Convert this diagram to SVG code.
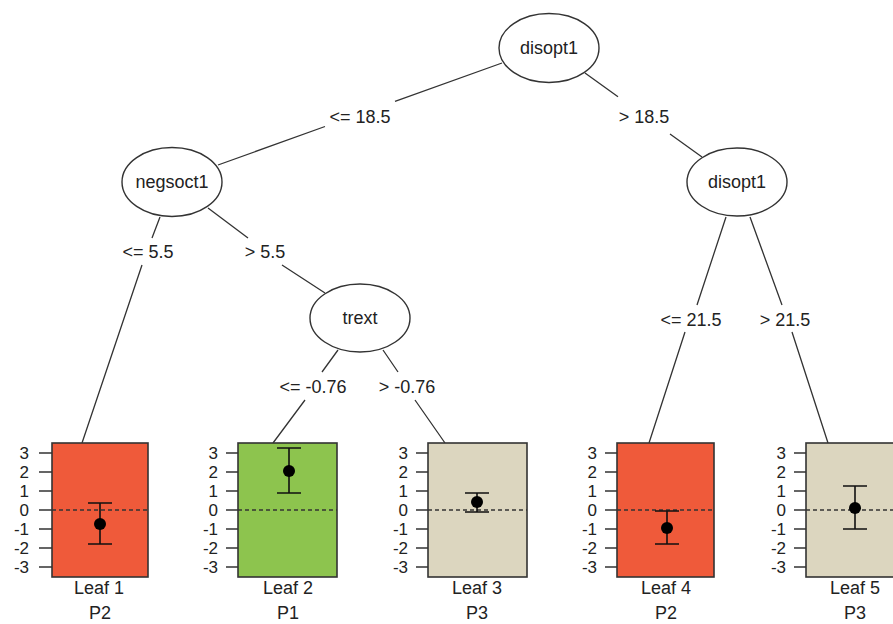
<svg xmlns="http://www.w3.org/2000/svg" width="893" height="624" viewBox="0 0 893 624">
<style>
text{font-family:"Liberation Sans",Arial,sans-serif;font-size:18px;fill:#222;text-anchor:middle}
.ax{text-anchor:end;font-size:17px}
.ell{fill:#fff;stroke:#333;stroke-width:1.4}
.edge{stroke:#333;stroke-width:1.3;fill:none}
.box{stroke:#333;stroke-width:1.6}
.red{fill:#EF5A3A}
.green{fill:#8DC44E}
.beige{fill:#DCD6BF}
.tick{stroke:#333;stroke-width:1.3}
.zero{stroke:#333;stroke-width:1.3;stroke-dasharray:4 3}
.eb{stroke:#111;stroke-width:1.6;fill:none}
.dot{fill:#000}
</style>
<rect width="893" height="624" fill="#fff"/>
<g id="connectors">
<path class="edge" d="M502,63 L395,101.4 M325,126.5 L218,165"/>
<path class="edge" d="M585,73 L618,96.7 M670,134 L702,157"/>
<path class="edge" d="M160,217 L152,238 M142,265 L82,443"/>
<path class="edge" d="M208,208 L248,238 M282,265 L325,293"/>
<path class="edge" d="M338,350 L322,372 M305,400 L273,443"/>
<path class="edge" d="M383,350 L398,372 M415,400 L445,443"/>
<path class="edge" d="M726,217 L697,305 M685,332 L649,443"/>
<path class="edge" d="M750,217 L782,305 M792,332 L828,443"/>
<text x="360" y="123">&lt;= 18.5</text>
<text x="644" y="123">&gt; 18.5</text>
<text x="148" y="258">&lt;= 5.5</text>
<text x="265" y="258">&gt; 5.5</text>
<text x="313" y="393">&lt;= -0.76</text>
<text x="407" y="393">&gt; -0.76</text>
<text x="691" y="326">&lt;= 21.5</text>
<text x="785" y="326">&gt; 21.5</text>
</g>
<g id="node-disopt1-root">
<ellipse class="ell" cx="549" cy="48" rx="50" ry="34.5"/>
<text x="549" y="54">disopt1</text>
</g>
<g id="node-negsoct1">
<ellipse class="ell" cx="172" cy="182" rx="50" ry="34.5"/>
<text x="172" y="188">negsoct1</text>
</g>
<g id="node-trext">
<ellipse class="ell" cx="360" cy="318" rx="50" ry="34"/>
<text x="360" y="324">trext</text>
</g>
<g id="node-disopt1-right">
<ellipse class="ell" cx="737" cy="182" rx="50" ry="34"/>
<text x="737" y="188">disopt1</text>
</g>
<g id="leaf1">
<rect class="box red" x="52" y="443" width="96" height="134"/>
<path class="tick" d="M39,453H52M39,472H52M39,491H52M39,510H52M39,529H52M39,548H52M39,567H52"/>
<text class="ax" x="29" y="459">3</text><text class="ax" x="29" y="478">2</text><text class="ax" x="29" y="497">1</text><text class="ax" x="29" y="516">0</text><text class="ax" x="29" y="535">-1</text><text class="ax" x="29" y="554">-2</text><text class="ax" x="29" y="573">-3</text>
<line class="zero" x1="52" y1="510" x2="148" y2="510"/>
<path class="eb" d="M100,503V544M88,503H112M88,544H112"/>
<circle class="dot" cx="100" cy="524" r="6"/>
<text x="99" y="594">Leaf 1</text>
<text x="100" y="619">P2</text>
</g>
<g id="leaf2">
<rect class="box green" x="238" y="443" width="99" height="134"/>
<path class="tick" d="M226,453H238M226,472H238M226,491H238M226,510H238M226,529H238M226,548H238M226,567H238"/>
<text class="ax" x="218" y="459">3</text><text class="ax" x="218" y="478">2</text><text class="ax" x="218" y="497">1</text><text class="ax" x="218" y="516">0</text><text class="ax" x="218" y="535">-1</text><text class="ax" x="218" y="554">-2</text><text class="ax" x="218" y="573">-3</text>
<line class="zero" x1="238" y1="510" x2="337" y2="510"/>
<path class="eb" d="M289,448V493M277,448H301M277,493H301"/>
<circle class="dot" cx="289" cy="471" r="6"/>
<text x="288" y="594">Leaf 2</text>
<text x="288" y="619">P1</text>
</g>
<g id="leaf3">
<rect class="box beige" x="428" y="443" width="99" height="134"/>
<path class="tick" d="M416,453H428M416,472H428M416,491H428M416,510H428M416,529H428M416,548H428M416,567H428"/>
<text class="ax" x="408" y="459">3</text><text class="ax" x="408" y="478">2</text><text class="ax" x="408" y="497">1</text><text class="ax" x="408" y="516">0</text><text class="ax" x="408" y="535">-1</text><text class="ax" x="408" y="554">-2</text><text class="ax" x="408" y="573">-3</text>
<line class="zero" x1="428" y1="510" x2="527" y2="510"/>
<path class="eb" d="M477,493V512M465,493H489M465,512H489"/>
<circle class="dot" cx="477" cy="502" r="6"/>
<text x="477" y="594">Leaf 3</text>
<text x="477" y="619">P3</text>
</g>
<g id="leaf4">
<rect class="box red" x="617" y="443" width="97" height="134"/>
<path class="tick" d="M605,453H617M605,472H617M605,491H617M605,510H617M605,529H617M605,548H617M605,567H617"/>
<text class="ax" x="597" y="459">3</text><text class="ax" x="597" y="478">2</text><text class="ax" x="597" y="497">1</text><text class="ax" x="597" y="516">0</text><text class="ax" x="597" y="535">-1</text><text class="ax" x="597" y="554">-2</text><text class="ax" x="597" y="573">-3</text>
<line class="zero" x1="617" y1="510" x2="714" y2="510"/>
<path class="eb" d="M667,511V544M655,511H679M655,544H679"/>
<circle class="dot" cx="667" cy="528" r="6"/>
<text x="666" y="594">Leaf 4</text>
<text x="666" y="619">P2</text>
</g>
<g id="leaf5">
<rect class="box beige" x="806" y="443" width="98" height="134"/>
<path class="tick" d="M794,453H806M794,472H806M794,491H806M794,510H806M794,529H806M794,548H806M794,567H806"/>
<text class="ax" x="786" y="459">3</text><text class="ax" x="786" y="478">2</text><text class="ax" x="786" y="497">1</text><text class="ax" x="786" y="516">0</text><text class="ax" x="786" y="535">-1</text><text class="ax" x="786" y="554">-2</text><text class="ax" x="786" y="573">-3</text>
<line class="zero" x1="806" y1="510" x2="904" y2="510"/>
<path class="eb" d="M855,486V529M843,486H867M843,529H867"/>
<circle class="dot" cx="855" cy="508" r="6"/>
<text x="855" y="594">Leaf 5</text>
<text x="855" y="619">P3</text>
</g>
</svg>
